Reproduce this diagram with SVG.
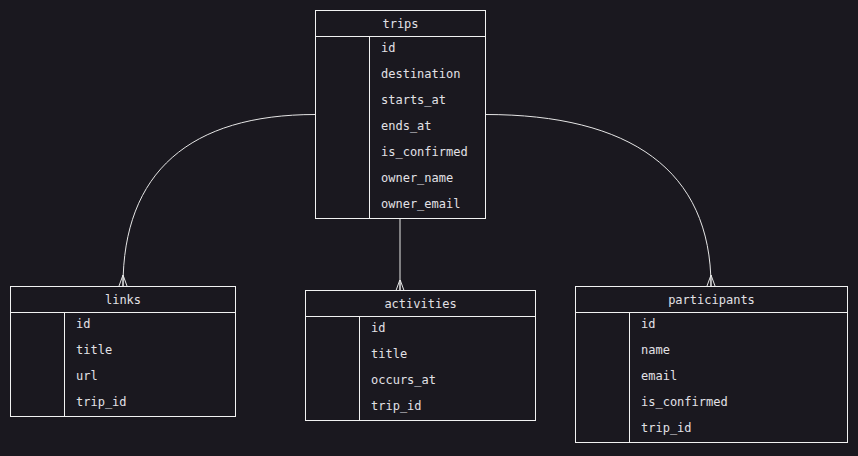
<svg xmlns="http://www.w3.org/2000/svg" width="858" height="456" viewBox="0 0 858 456">
<style>
.bg{fill:#1a181f}
.box{fill:#1a181f;stroke:#f2f2f2;stroke-width:1}
.ln{fill:none;stroke:#f2f2f2;stroke-width:1}
.edge{fill:none;stroke:#e6e6e6;stroke-width:1}
text{font-family:"DejaVu Sans Mono","Liberation Mono",monospace;font-size:12px;fill:#e2e1e6;dominant-baseline:central}
.h{text-anchor:middle}
</style>
<defs>
<marker id="crow" markerWidth="10" markerHeight="12" refX="5" refY="11" orient="0" markerUnits="userSpaceOnUse">
<path d="M5,0 L1,11 M5,0 L9,11 M5,0 L5,11" fill="none" stroke="#e6e6e6" stroke-width="1"/>
</marker>
</defs>
<rect class="bg" x="0" y="0" width="858" height="456"/>
<g id="connectors">
<path class="edge" d="M315.5,114.5 C190,114.5 123,172 123,286" marker-end="url(#crow)"/>
<path class="edge" d="M400,218.5 L400,290.5" marker-end="url(#crow)"/>
<path class="edge" d="M485.5,114.5 C630,114.5 711,170 711,286" marker-end="url(#crow)"/>
</g>
<g id="trips">
<rect class="box" x="315.5" y="10.5" width="170" height="208"/>
<path class="ln" d="M315.5,36.5 H485.5 M369.5,36.5 V218.5"/>
<text class="h" x="400.5" y="24">trips</text>
<text x="381" y="48">id</text>
<text x="381" y="74">destination</text>
<text x="381" y="100">starts_at</text>
<text x="381" y="126">ends_at</text>
<text x="381" y="152">is_confirmed</text>
<text x="381" y="178">owner_name</text>
<text x="381" y="204">owner_email</text>
</g>
<g id="links">
<rect class="box" x="10.5" y="286.5" width="225" height="130"/>
<path class="ln" d="M10.5,312.5 H235.5 M64.5,312.5 V416.5"/>
<text class="h" x="123" y="300">links</text>
<text x="76" y="324">id</text>
<text x="76" y="350">title</text>
<text x="76" y="376">url</text>
<text x="76" y="402">trip_id</text>
</g>
<g id="activities">
<rect class="box" x="305.5" y="290.5" width="230" height="130"/>
<path class="ln" d="M305.5,316.5 H535.5 M359.5,316.5 V420.5"/>
<text class="h" x="420.5" y="304">activities</text>
<text x="371" y="328">id</text>
<text x="371" y="354">title</text>
<text x="371" y="380">occurs_at</text>
<text x="371" y="406">trip_id</text>
</g>
<g id="participants">
<rect class="box" x="575.5" y="286.5" width="272" height="156"/>
<path class="ln" d="M575.5,312.5 H847.5 M629.5,312.5 V442.5"/>
<text class="h" x="711.5" y="300">participants</text>
<text x="641" y="324">id</text>
<text x="641" y="350">name</text>
<text x="641" y="376">email</text>
<text x="641" y="402">is_confirmed</text>
<text x="641" y="428">trip_id</text>
</g>
</svg>
